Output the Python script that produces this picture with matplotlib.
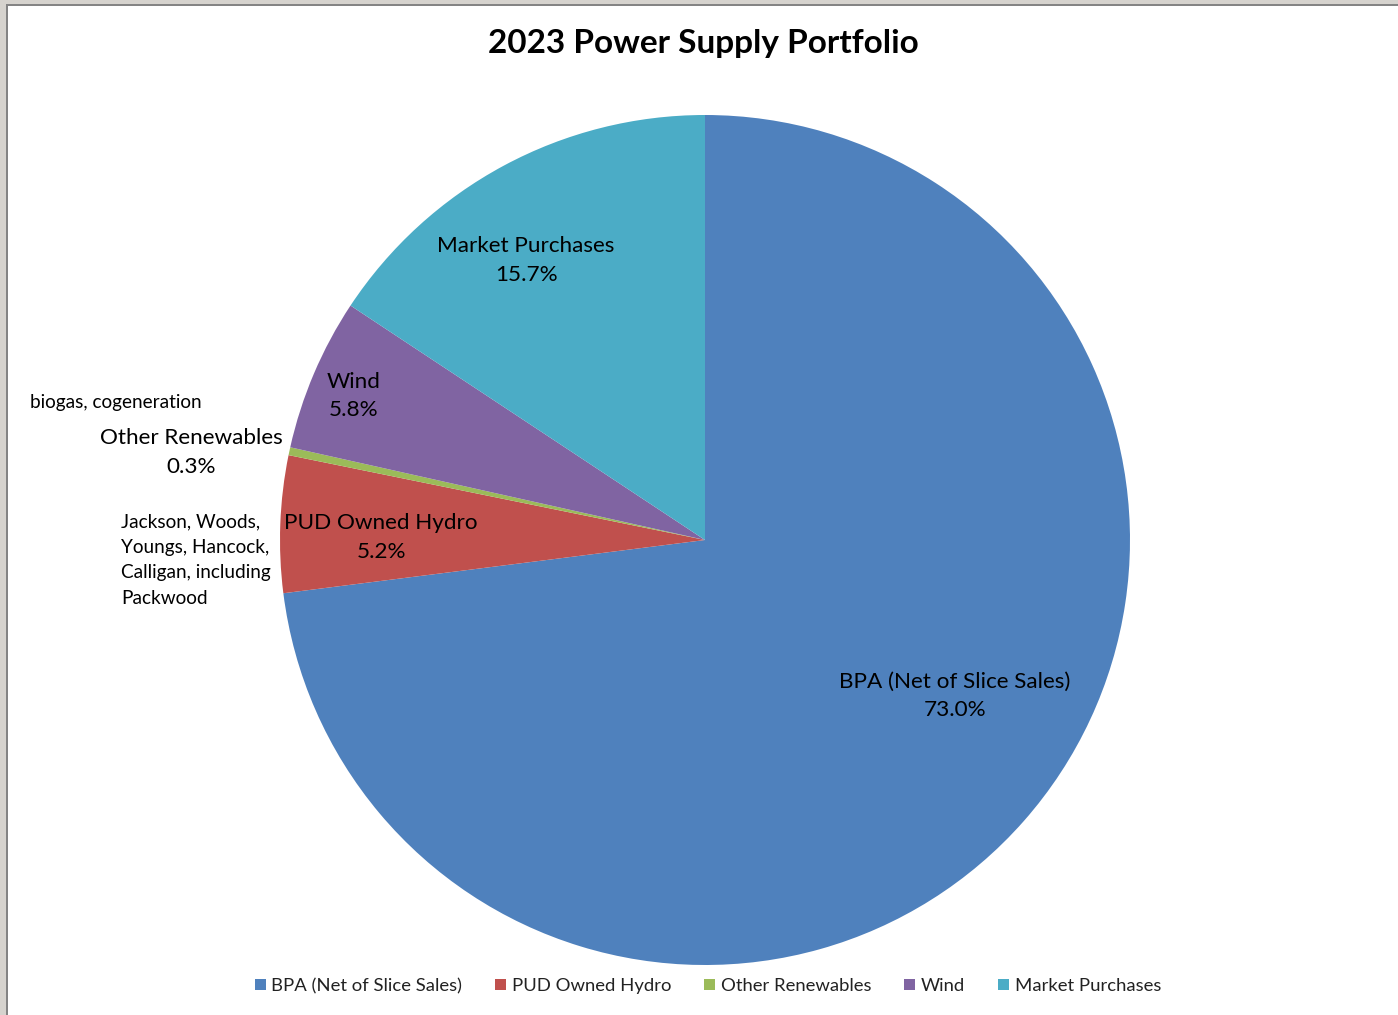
import matplotlib
matplotlib.use("Agg")
import matplotlib.pyplot as plt
from matplotlib.patches import Rectangle, Patch

# Data
categories = ["BPA (Net of Slice Sales)", "PUD Owned Hydro", "Other Renewables", "Wind", "Market Purchases"]
values = [73.0, 5.2, 0.3, 5.8, 15.7]
colors = ["#4F81BD", "#C0504D", "#9BBB59", "#8064A2", "#4BACC6"]
title = "2023 Power Supply Portfolio"
note_other = "biogas, cogeneration"
note_hydro = "Jackson, Woods,\nYoungs, Hancock,\nCalligan, including\nPackwood"

# Label positions (data coords, radius = 1)
label_pos = [(0.588, -0.367), (-0.762, 0.005), (-1.209, 0.205), (-0.826, 0.339), (-0.421, 0.657)]

plt.rcParams['font.family'] = ['Lato', 'DejaVu Sans']

W, H = 1398, 1015
fig = plt.figure(figsize=(W / 100, H / 100), dpi=100)
fig.patch.set_facecolor("white")

# window frame
fig.add_artist(Rectangle((0, 1 - 4 / H), 1, 4 / H, transform=fig.transFigure, color="#D6D3CE", lw=0, zorder=0))
fig.add_artist(Rectangle((0, 0), 6 / W, 1, transform=fig.transFigure, color="#D6D3CE", lw=0, zorder=0))
fig.add_artist(Rectangle((6 / W, 1 - 6 / H), 1, 2 / H, transform=fig.transFigure, color="#848484", lw=0, zorder=1))
fig.add_artist(Rectangle((6 / W, 0), 2 / W, 1 - 4 / H, transform=fig.transFigure, color="#848484", lw=0, zorder=1))

cx, cy, r = 705, 540, 425
ax = fig.add_axes([(cx - r) / W, (H - cy - r) / H, 2 * r / W, 2 * r / H])
ax.pie(values, colors=colors, startangle=90, counterclock=False, radius=1,
       wedgeprops=dict(linewidth=0))
ax.set_xlim(-1, 1)
ax.set_ylim(-1, 1)
ax.set_aspect('auto')
ax.axis('off')

for name, v, (x, y) in zip(categories, values, label_pos):
    ax.text(x, y, f"{name}\n{v:.1f}%", ha='center', va='center', fontsize=16.2,
            color="#000000", linespacing=1.55, clip_on=False)

fig.text(703 / W, 1 - 44 / H, title, ha='center', va='center', fontsize=24, fontweight='bold')
fig.text(30 / W, 1 - 403 / H, note_other, ha='left', va='center', fontsize=13.7)
fig.text(121 / W, 1 - 560 / H, note_hydro, ha='left', va='center', fontsize=13.7, linespacing=1.6)

handles = [Patch(facecolor=c, edgecolor='none') for c in colors]
fig.legend(handles, categories, loc='center', bbox_to_anchor=(708 / W, 1 - 986 / H), ncol=5,
           frameon=False, fontsize=13.3, handlelength=0.6, handleheight=0.6, handletextpad=0.3,
           columnspacing=1.78, labelcolor="#222222")

fig.savefig("out.png", dpi=100)
